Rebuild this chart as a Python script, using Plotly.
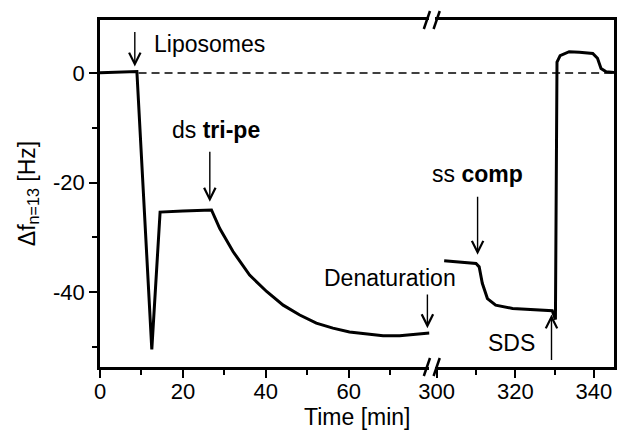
import plotly.graph_objects as go

# ---- data ----
t_left = [0, 4, 8.5, 8.9, 12.5, 14.5, 20, 26.9, 28.9, 32.1, 36.1, 40.2, 44.2, 48.2,
          52.2, 56.2, 60.2, 64.3, 68.3, 72.3, 76.3, 79.5]
f_left = [0.05, 0.2, 0.35, 0.3, -50.5, -25.4, -25.2, -25.0, -28.4, -32.6, -36.9, -39.9,
          -42.4, -44.2, -45.7, -46.6, -47.3, -47.7, -48.0, -48.0, -47.7, -47.5]

t_right = [301.9, 310.0, 310.8, 311.6, 312.9, 315.0, 319.3, 323.5, 327.8, 329.4, 330.2,
           330.6, 331.4, 333.7, 336.3, 339.7, 340.9, 341.8, 343.1, 344.4, 345.1]
f_right = [-34.3, -34.8, -35.4, -38.4, -41.2, -42.4, -43.0, -43.2, -43.3, -43.4, -45.0,
           2.0, 3.2, 3.9, 3.8, 3.6, 2.7, 0.85, 0.24, 0.1, 0.1]

x_left_range = [0, 79.5]
x_right_range = [299.6, 345.1]
y_range = [-53.7, 9.7]

x_left_ticks = [0, 20, 40, 60]
x_left_minor = [10, 30, 50, 70]
x_right_ticks = [300, 320, 340]
x_right_minor = [310, 330]
y_ticks = [-40, -20, 0]
y_minor = [-50, -30, -10]

baseline_left = [9.3, 79.5]
baseline_right = [299.6, 345.1]

# annotations: (label, axis, text_x, text_y)
labels = [
    ("Liposomes", "left", 26.4, 5.3),
    ("ds <b>tri-pe</b>", "left", 28.1, -10.4),
    ("Denaturation", "left", 69.9, -37.4),
    ("ss <b>comp</b>", "right", 310.5, -18.5),
    ("SDS", "right", 319.1, -49.4),
]
# arrows: (axis, tail_x, tail_y, tip_x, tip_y)
arrows = [
    ("left", 8.4, 7.8, 8.4, 1.2),
    ("left", 26.5, -14.1, 26.5, -23.5),
    ("left", 79.0, -40.2, 79.0, -46.6),
    ("right", 310.4, -22.3, 310.4, -33.2),
    ("right", 329.2, -52.7, 329.2, -44.1),
]

FONT = "Liberation Sans, Arial, sans-serif"
BLACK = "black"

fig = go.Figure()
fig.add_trace(go.Scatter(x=baseline_left, y=[0, 0], mode="lines", xaxis="x", yaxis="y",
                         line=dict(color=BLACK, width=1.5, dash="8px,5px"), hoverinfo="skip"))
fig.add_trace(go.Scatter(x=baseline_right, y=[0, 0], mode="lines", xaxis="x2", yaxis="y2",
                         line=dict(color=BLACK, width=1.5, dash="8px,5px"), hoverinfo="skip"))
fig.add_trace(go.Scatter(x=t_left, y=f_left, mode="lines", xaxis="x", yaxis="y",
                         line=dict(color=BLACK, width=3)))
fig.add_trace(go.Scatter(x=t_right, y=f_right, mode="lines", xaxis="x2", yaxis="y2",
                         line=dict(color=BLACK, width=3)))

axis_common = dict(showline=True, linecolor=BLACK, linewidth=2.5, showgrid=False,
                   zeroline=False, ticks="outside", ticklen=8, tickwidth=2,
                   tickcolor=BLACK, tickfont=dict(family=FONT, size=22, color=BLACK))

fig.update_layout(
    width=617, height=430,
    margin=dict(l=100, r=3, t=20, b=63),
    paper_bgcolor="white", plot_bgcolor="white",
    showlegend=False,
    font=dict(family=FONT, size=22, color=BLACK),
    xaxis=dict(domain=[0, 0.641], range=x_left_range, anchor="y", mirror=True,
               tickvals=x_left_ticks, ticktext=[str(v) for v in x_left_ticks],
               ticklabelstandoff=-5,
               minor=dict(tickvals=x_left_minor, ticklen=5, tickwidth=2, ticks="outside",
                          tickcolor=BLACK),
               **axis_common),
    xaxis2=dict(domain=[0.652, 1], range=x_right_range, anchor="y2", mirror=True,
                tickvals=x_right_ticks, ticktext=[str(v) for v in x_right_ticks],
                ticklabelstandoff=-5,
                minor=dict(tickvals=x_right_minor, ticklen=5, tickwidth=2, ticks="outside",
                           tickcolor=BLACK),
                **axis_common),
    yaxis=dict(domain=[0, 1], range=y_range, anchor="x",
               tickvals=y_ticks, ticktext=[str(v) for v in y_ticks],
               minor=dict(tickvals=y_minor, ticklen=5, tickwidth=2, ticks="outside",
                          tickcolor=BLACK),
               title=dict(text="Δf<sub>n=13</sub> [Hz]", font=dict(family=FONT, size=23),
                          standoff=12),
               **axis_common),
    yaxis2=dict(domain=[0, 1], range=y_range, anchor="x2", side="right",
                showline=True, linecolor=BLACK, linewidth=2.5, showgrid=False,
                zeroline=False, ticks="", showticklabels=False),
)

for text, ax_name, tx, ty in labels:
    xr = "x" if ax_name == "left" else "x2"
    yr = "y" if ax_name == "left" else "y2"
    fig.add_annotation(x=tx, y=ty, xref=xr, yref=yr, text=text, showarrow=False,
                       xanchor="center", yanchor="middle",
                       font=dict(family=FONT, size=23, color=BLACK))

for ax_name, x0, y0, x1, y1 in arrows:
    xr = "x" if ax_name == "left" else "x2"
    yr = "y" if ax_name == "left" else "y2"
    fig.add_annotation(x=x1, y=y1, xref=xr, yref=yr, ax=x0, ay=y0, axref=xr, ayref=yr,
                       text="", showarrow=True, arrowhead=5, arrowsize=1.6,
                       arrowwidth=1.4, arrowcolor=BLACK, standoff=0)

# x-axis title centred under both segments
fig.add_annotation(x=0.5, y=-0.144, xref="paper", yref="paper", text="Time [min]",
                   xanchor="center", yanchor="middle", showarrow=False,
                   font=dict(family=FONT, size=23, color=BLACK))

# axis-break marks (//) on bottom and top frame lines
for yc in (0, 1):
    for xc in (0.636, 0.655):
        fig.add_shape(type="line", xref="paper", yref="paper",
                      x0=xc - 0.006, y0=yc - 0.026, x1=xc + 0.006, y1=yc + 0.026,
                      line=dict(color=BLACK, width=2.5))

fig.write_html("out.html")
